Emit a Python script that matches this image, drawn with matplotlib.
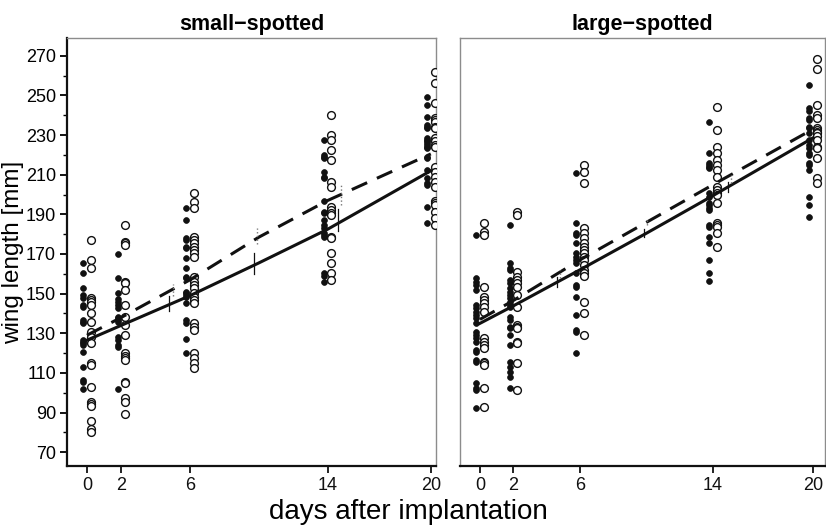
import numpy as np
import matplotlib.pyplot as plt

plt.rcParams['font.family'] = ['Liberation Sans', 'DejaVu Sans']

days = [0, 2, 6, 14, 20]

# small-spotted, filled circles (one group) and open circles (other group)
small_filled = {
    0: [165.5, 160.4, 152.8, 149.3, 147.8, 144.2, 143.2, 136.7, 135.7, 135.2,
        126.6, 125.6, 125.1, 124.1, 120.5, 112.9, 106.4, 105.4, 101.8],
    2: [170, 158, 150.5, 147.1, 145.9, 144.2, 142.6, 138.3, 137.5, 136.7,
        135.8, 128.2, 126.6, 124, 123.2, 101.7],
    6: [193, 187.2, 177.9, 177.1, 173.7, 172.9, 167.8, 162.8, 158.5, 157.7,
        151, 150.2, 149.3, 148.4, 145.1, 136.7, 135.3, 126.9, 120.2],
    14: [227.6, 220, 219.1, 218.3, 211.6, 209, 208.2, 196.6, 191.4, 190.6,
         187.2, 184.6, 183, 180.4, 179.6, 178.8, 160.3, 158.7, 156],
    20: [249.4, 245.2, 239.3, 235.1, 234.3, 233.4, 228.4, 227.6, 226.8, 225.9,
         225.1, 224.2, 223.4, 219.1, 218.3, 212.4, 208.2, 205.7, 204.8, 193.9, 185.5],
}
small_open = {
    0: [177.1, 167, 163.1, 147.6, 146.8, 145.9, 144.2, 140, 135.8, 130.8,
        128.2, 124.9, 114.8, 113.9, 103, 95.4, 94.2, 93.2, 85.8, 81.5, 80.3],
    2: [184.6, 176.2, 175.4, 174.5, 156, 155.2, 151.8, 144.2, 138.3, 134.1,
        129.1, 119.8, 118.5, 117.3, 116.5, 105.5, 104.7, 97.1, 95.1, 89],
    6: [200.6, 196.3, 193, 178.4, 177.1, 175.4, 173.7, 172, 170.3, 168.6,
        158.5, 156, 154.3, 152.6, 150.2, 148.4, 146.8, 145.1, 135.3, 133.3,
        131.6, 120.2, 117.3, 114.8, 112.3],
    14: [240.2, 230.1, 227.6, 222.6, 217.5, 206.5, 204, 193.9, 192.2, 190.5,
         189.7, 178.8, 177.9, 170.3, 165.3, 160.3, 156.9],
    20: [262.1, 256.2, 246.1, 238.5, 237.7, 236.8, 234.3, 233.4, 228.4, 226.8,
         225.1, 224.2, 214.1, 211.6, 209, 206.5, 204, 196.6, 195.6, 194.7,
         191.4, 188.1, 184.6],
}

# large-spotted
large_filled = {
    0: [179.6, 157.7, 156, 154.3, 151.8, 144.2, 142.6, 140.9, 139.2, 137.5,
        135, 130.8, 129.1, 127.4, 125.7, 121.5, 120.7, 116.5, 115.6, 104.7,
        102.2, 101.3, 92.1],
    2: [184.6, 165.3, 162.8, 161.9, 156.9, 155.2, 152.7, 151, 149.3, 147.6,
        145.9, 144.2, 143.4, 138.3, 136.7, 133.3, 132.5, 129.1, 124, 115.6,
        113.1, 110.5, 108, 102.2],
    6: [210.8, 185.5, 180.4, 179.6, 175.4, 170.3, 168.6, 167, 165.3, 160.3,
        154.3, 153.5, 148.4, 139.2, 131.6, 130.8, 119.8],
    14: [236.8, 220.9, 215.8, 215, 214.1, 213.3, 200.6, 199, 195.6, 194.7,
         193, 192.2, 184.6, 183.8, 178.8, 175.4, 167, 160.3, 156.5],
    20: [255.4, 243.6, 242, 238.5, 237.7, 234.3, 233.4, 231, 227.6, 225.1,
         223.4, 220.9, 220, 215.8, 215, 212.4, 199, 194.7, 188.8],
}
large_open = {
    0: [185.5, 181.3, 179.6, 153.5, 148.4, 146.8, 145.1, 143.4, 140.9, 127.4,
        125.7, 124, 122.4, 115.6, 114.8, 113.9, 102.2, 92.9],
    2: [191.4, 189.7, 161, 158.5, 156.9, 155.2, 153.5, 149.3, 143.4, 134.1,
        133.3, 132.5, 125.7, 124.9, 114.8, 101.3],
    6: [214.9, 211.6, 205.7, 183, 180.4, 177.9, 175.4, 173.7, 172, 170.3,
        168.6, 167, 164.4, 161.9, 160.3, 158.7, 145.9, 140, 129.1],
    14: [244.4, 232.6, 224.2, 220.9, 217.5, 214.9, 212.4, 209, 204, 202.3,
         200.6, 199.8, 195.6, 185.5, 184.6, 183.8, 180.4, 173.3],
    20: [268.3, 263.3, 245.2, 240.2, 238.5, 233.4, 232.6, 231.8, 231, 229.3,
         227.6, 224.2, 223.4, 218.3, 208.2, 205.7],
}

# fitted curves
fit_days = [0, 2, 6, 10, 14, 20]
small_solid = [126.5, 134, 149, 165.5, 182.5, 212]
small_dashed = [129, 138, 157, 178.5, 197, 220.5]
large_solid = [135, 143.8, 162, 180.5, 199.5, 228.6]
large_dashed = [137, 146.5, 167, 186, 205, 233]

# interval marks on the curves
small_ci_days = [4.8, 9.7, 14.6]
small_solid_ci = [(141, 149), (160, 170.5), (181.5, 192.5)]
small_dashed_ci = [(149, 155), (175, 183), (194.5, 205.5)]
large_ci_days = [4.6, 9.85, 14.9]
large_solid_ci = [(153.5, 158.5), (178.5, 182.5), (201.3, 206.4)]
large_dashed_ci = [(158, 162), (184.5, 188), (206, 210)]

fig = plt.figure(figsize=(8.26, 5.31), dpi=100)
ax1 = fig.add_axes([0.0811, 0.1224, 0.4467, 0.806])
ax2 = fig.add_axes([0.5569, 0.1224, 0.4419, 0.806])

panels = [
    (ax1, 'small\u2212spotted', small_filled, small_open, small_solid, small_dashed,
     small_ci_days, small_solid_ci, small_dashed_ci, (-1.16, 20.3)),
    (ax2, 'large\u2212spotted', large_filled, large_open, large_solid, large_dashed,
     large_ci_days, large_solid_ci, large_dashed_ci, (-1.2, 20.72)),
]

for ax, title, filled, opened, solid, dashed, ci_days, solid_ci, dashed_ci, xl in panels:
    for d in days:
        ax.plot([d - 0.22] * len(filled[d]), filled[d], 'o', ms=4.2,
                mfc='#111111', mec='#111111', mew=0.5, zorder=3)
        ax.plot([d + 0.22] * len(opened[d]), opened[d], 'o', ms=5.6,
                mfc='white', mec='#111111', mew=1.0, zorder=3)
    ax.plot(fit_days, solid, '-', color='#111111', lw=2.2, zorder=4)
    ax.plot(fit_days, dashed, '--', color='#111111', lw=2.2, dashes=(5.5, 3.5), zorder=4)
    for x, (lo, hi) in zip(ci_days, solid_ci):
        ax.plot([x, x], [lo, hi], '-', color='#111111', lw=0.9, zorder=5)
    for x, (lo, hi) in zip(ci_days, dashed_ci):
        ax.plot([x + 0.2, x + 0.2], [lo, hi], ':', color='#777777', lw=1.0, zorder=5)

    ax.set_xlim(*xl)
    ax.set_ylim(63, 279)
    ax.set_xticks(days)
    ax.set_xticklabels([str(d) for d in days])
    ax.set_title(title, fontsize=15.5, fontweight='bold', pad=6)
    for s in ['top', 'right', 'left']:
        ax.spines[s].set_color('#8c8c8c')
        ax.spines[s].set_linewidth(1.0)
    ax.spines['bottom'].set_color('#111111')
    ax.spines['bottom'].set_linewidth(1.6)
    ax.tick_params(axis='x', direction='out', length=5, width=1.3,
                   labelsize=13, pad=3, colors='#111111')

ax1.spines['left'].set_color('#111111')
ax1.spines['left'].set_linewidth(1.6)
ax1.set_yticks(np.arange(70, 271, 20))
ax1.set_yticks(np.arange(80, 271, 20), minor=True)
ax1.tick_params(axis='y', which='major', direction='out', length=5, width=1.3,
                labelsize=13, pad=3)
ax1.tick_params(axis='y', which='minor', direction='out', length=3, width=1.0)
ax1.set_ylabel('wing length [mm]', fontsize=17.5, labelpad=1)

ax2.set_yticks([])

fig.text(0.495, 0.036, 'days after implantation', ha='center', va='center', fontsize=20)

fig.savefig('out.png', dpi=100)
